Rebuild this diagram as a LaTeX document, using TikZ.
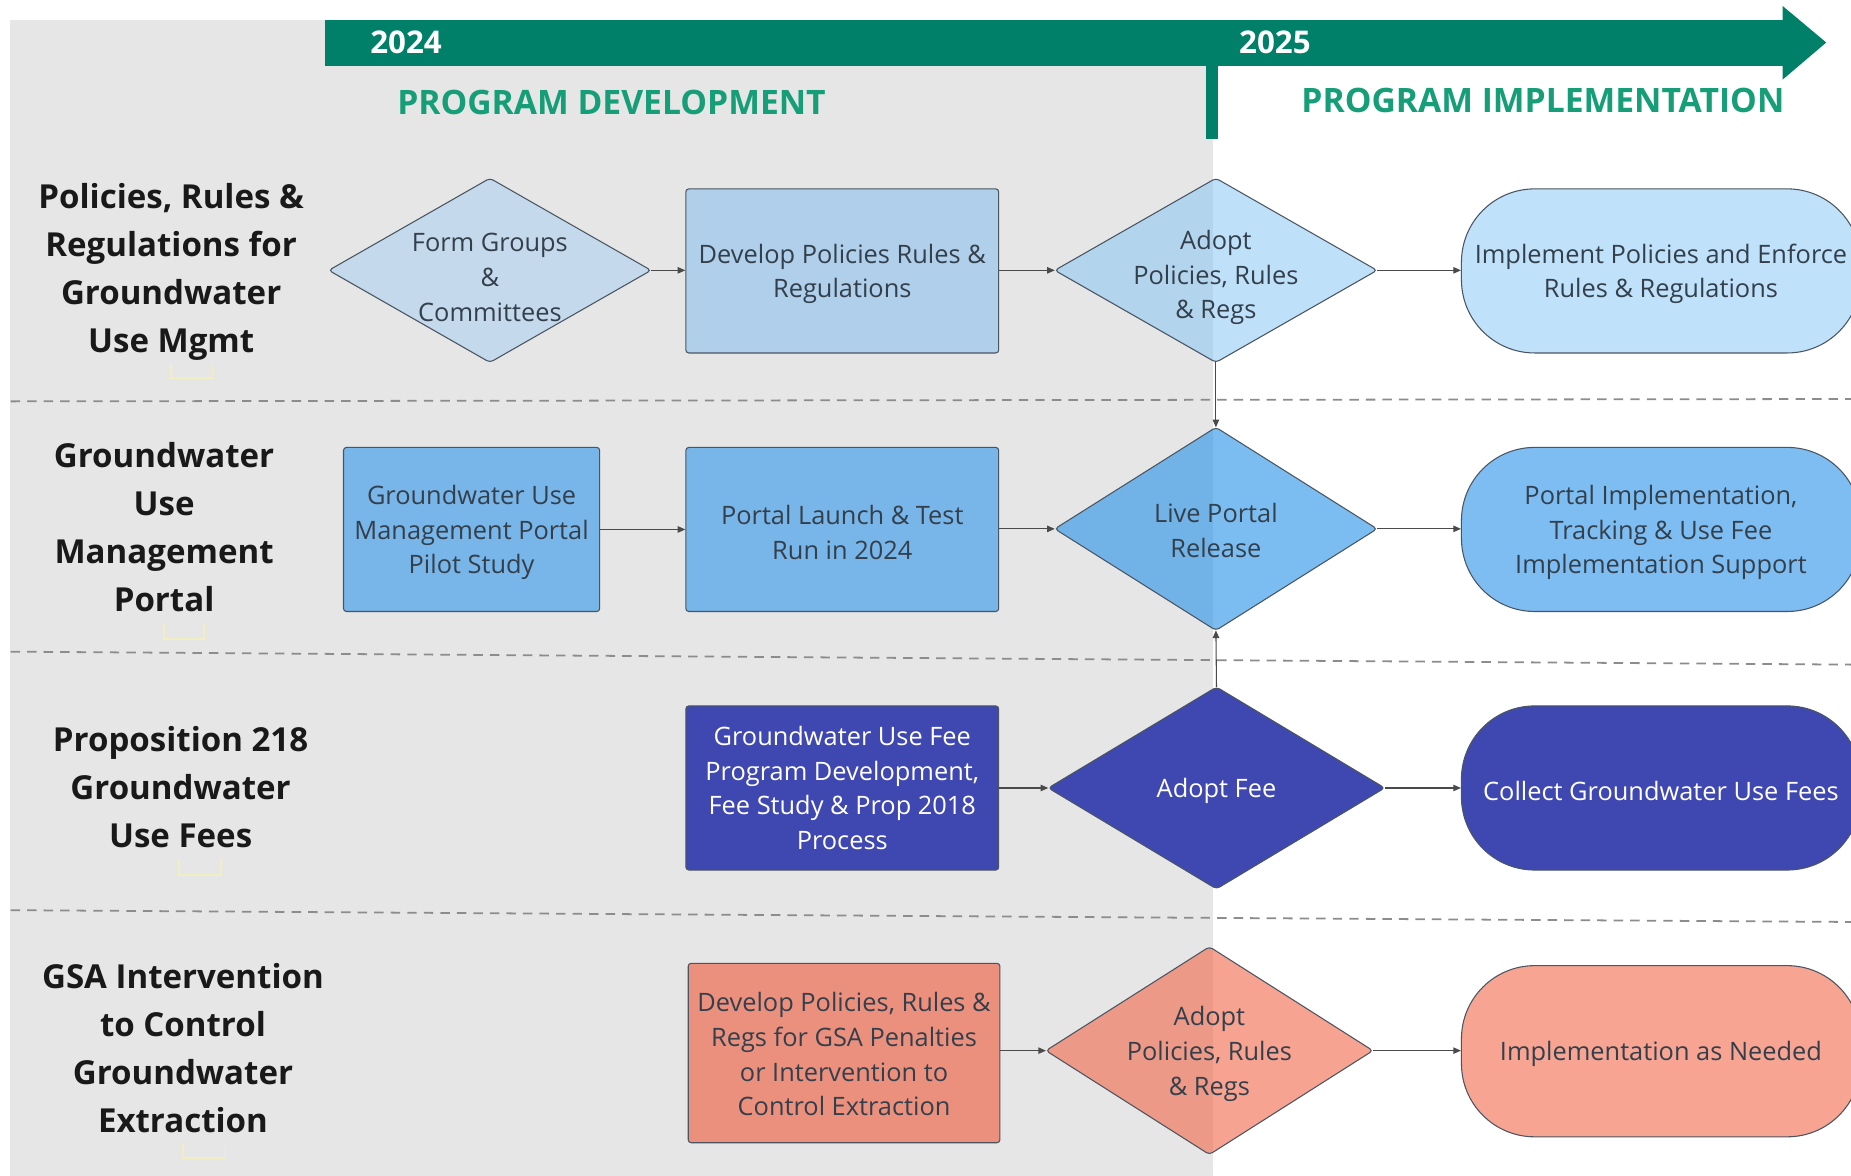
\documentclass[tikz,border=0pt]{standalone}
\usepackage{fontspec}
\setmainfont{Open Sans}
\usetikzlibrary{shapes.geometric,arrows.meta}
\definecolor{bggray}{HTML}{E6E6E6}
\definecolor{bargreen}{RGB}{0,128,104}
\definecolor{headgreen}{RGB}{22,158,120}
\definecolor{edgecol}{HTML}{4A5561}
\definecolor{txtcol}{HTML}{333F4B}
\definecolor{conncol}{HTML}{4A4A4A}
\definecolor{dashcol}{HTML}{8C8C8C}
\definecolor{rowA}{HTML}{C4D9EC}
\definecolor{rowArect}{HTML}{AFCFEA}
\definecolor{rowAbase}{RGB}{129,195,245}
\definecolor{rowAstad}{HTML}{C0E1FA}
\definecolor{rowB}{HTML}{78B5E8}
\definecolor{rowBbase}{RGB}{38,145,233}
\definecolor{rowBstad}{HTML}{7DBDF2}
\definecolor{rowC}{HTML}{3F48B0}
\definecolor{rowD}{HTML}{EC907E}
\definecolor{rowDbase}{RGB}{242,103,73}
\definecolor{rowDstad}{HTML}{F7A492}
\definecolor{marky}{HTML}{F1EEC2}
\begin{document}
\begin{tikzpicture}[x=1pt,y=-1pt,
  boxtext/.style={font=\fontsize{21.5}{29.5}\selectfont, text=txtcol, align=center, inner sep=0pt, yshift=-2.5pt},
  whitetext/.style={boxtext, text=white},
  rowlabel/.style={font=\fontsize{28}{40.7}\selectfont\bfseries, text=black!90, align=center, inner sep=0pt},
  stepbox/.style={draw=edgecol, line width=0.9pt, rectangle, rounded corners=2.5pt, inner sep=0pt},
  decision/.style={draw=edgecol, line width=0.9pt, diamond, rounded corners=3pt, inner sep=0pt, outer sep=0pt},
  stadium/.style={draw=edgecol, line width=0.9pt, rectangle, rounded corners=62pt, minimum width=338pt, inner sep=0pt},
  conn/.style={draw=conncol, line width=0.9pt, -{Triangle[length=6.5pt,width=5.5pt]}},
  lanesep/.style={draw=dashcol, line width=1.5pt, dash pattern=on 8pt off 6pt},
  cursormark/.style={draw=marky, line width=1.6pt},
  header/.style={font=\fontsize{28.5}{34}\selectfont\bfseries, text=headgreen, inner sep=0pt},
  year/.style={font=\fontsize{26.5}{30}\selectfont\bfseries, text=white, inner sep=0pt}
]
\useasboundingbox (0,0) rectangle (1568,996);
\fill[white] (0,0) rectangle (1568,996);
% development area
\fill[bggray] (8.5,17) rectangle (1027.5,996);
% lane separators
\draw[lanesep] (9,340) -- (1568,338);
\draw[lanesep] (9,552) -- (1568,563);
\draw[lanesep] (9,771) -- (1568,781);
% timeline
\fill[bargreen] (275,17) rectangle (1511,55.5);
\fill[bargreen] (1510,5) -- (1547,36) -- (1510,67.5) -- cycle;
\fill[bargreen] (1022,54) rectangle (1031.5,118);
\node[year] (y24) at (344,36) {2024};
\node[year] (y25) at (1080,36) {2025};
\node[header] (hdev) at (518,87) {PROGRAM DEVELOPMENT};
\node[header] (himp) at (1307,85) {PROGRAM IMPLEMENTATION};
% row labels
\node[rowlabel] (l1) at (145,230.5) {Policies, Rules \&\\Regulations for\\Groundwater\\Use Mgmt};
\node[rowlabel] (l2) at (139,446.5) {Groundwater\\Use\\Management\\Portal};
\node[rowlabel] (l3) at (153,667) {Proposition 218\\Groundwater\\Use Fees};
\node[rowlabel] (l4) at (155,887.5) {GSA Intervention\\to Control\\Groundwater\\Extraction};
% faint marks under labels
\draw[cursormark] (145,309) -- (145,320) -- (180,320) -- (180,309);
\draw[cursormark] (139,529) -- (139,541) -- (173,541) -- (173,529);
\draw[cursormark] (152,728) -- (152,741) -- (187,741) -- (187,728);
\draw[cursormark] (155,968) -- (155,981) -- (191,981) -- (191,968);
% row 1
\node[decision, fill=rowA, minimum width=273pt, minimum height=156pt] (f1) at (415,229) {};
\node[boxtext, yshift=-3.5pt] (f1t) at (f1) {Form Groups\\\&\\Committees};
\node[stepbox, fill=rowArect, minimum width=265pt, minimum height=139pt] (r1) at (713.5,229.5) {};
\node[boxtext] (r1t) at (r1) {Develop Policies Rules \&\\Regulations};
\node[decision, fill=rowAbase, fill opacity=0.5, minimum width=273pt, minimum height=156pt] (a1) at (1030,229) {};
\node[boxtext, yshift=-3.5pt] (a1t) at (a1) {Adopt\\Policies, Rules\\\& Regs};
\node[stadium, fill=rowAstad, minimum height=139pt] (s1) at (1407,229.5) {};
\node[boxtext] (s1t) at (s1) {Implement Policies and Enforce\\Rules \& Regulations};
% row 2
\node[stepbox, fill=rowB, minimum width=217pt, minimum height=139pt] (p2) at (399.5,448.5) {};
\node[boxtext] (p2t) at (p2) {Groundwater Use\\Management Portal\\Pilot Study};
\node[stepbox, fill=rowB, minimum width=265pt, minimum height=139pt] (r2) at (713.5,448.5) {};
\node[boxtext] (r2t) at (r2) {Portal Launch \& Test\\Run in 2024};
\node[decision, fill=rowBbase, fill opacity=0.6, minimum width=273pt, minimum height=172pt] (a2) at (1030,448) {};
\node[boxtext, yshift=1pt] (a2t) at (a2) {Live Portal\\Release};
\node[stadium, fill=rowBstad, minimum height=139pt] (s2) at (1407,448.5) {};
\node[boxtext] (s2t) at (s2) {Portal Implementation,\\Tracking \& Use Fee\\Implementation Support};
% row 3
\node[stepbox, fill=rowC, minimum width=265pt, minimum height=139pt] (r3) at (713.5,667.5) {};
\node[whitetext, yshift=2.5pt] (r3t) at (r3) {Groundwater Use Fee\\Program Development,\\Fee Study \& Prop 2018\\Process};
\node[decision, fill=rowC, minimum width=285pt, minimum height=171pt] (a3) at (1030.5,667.5) {};
\node[whitetext] (a3t) at (a3) {Adopt Fee};
\node[stadium, fill=rowC, minimum height=139pt] (s3) at (1407,667.5) {};
\node[whitetext] (s3t) at (s3) {Collect Groundwater Use Fees};
% row 4
\node[stepbox, fill=rowD, minimum width=264pt, minimum height=152pt] (r4) at (715,892) {};
\node[boxtext, yshift=1.5pt] (r4t) at (r4) {Develop Policies, Rules \&\\Regs for GSA Penalties\\or Intervention to\\Control Extraction};
\node[decision, fill=rowDbase, fill opacity=0.6, minimum width=277pt, minimum height=176pt] (a4) at (1024.5,890) {};
\node[boxtext] (a4t) at (a4) {Adopt\\Policies, Rules\\\& Regs};
\node[stadium, fill=rowDstad, minimum height=145pt] (s4) at (1407,890.5) {};
\node[boxtext] (s4t) at (s4) {Implementation as Needed};
% connectors
\draw[conn] (f1.east) -- (f1.east -| r1.west);
\draw[conn] (r1.east |- a1.west) -- (a1.west);
\draw[conn] (a1.east) -- (a1.east -| s1.west);
\draw[conn] (a1.south) -- (a2.north);
\draw[conn] (p2.east) -- (p2.east -| r2.west);
\draw[conn] (r2.east |- a2.west) -- (a2.west);
\draw[conn] (a2.east) -- (a2.east -| s2.west);
\draw[conn] (r3.east |- a3.west) -- (a3.west);
\draw[conn] (a3.east) -- (a3.east -| s3.west);
\draw[conn] (a3.north) -- (a2.south);
\draw[conn] (r4.east |- a4.west) -- (a4.west);
\draw[conn] (a4.east) -- (a4.east -| s4.west);
\end{tikzpicture}
\end{document}
